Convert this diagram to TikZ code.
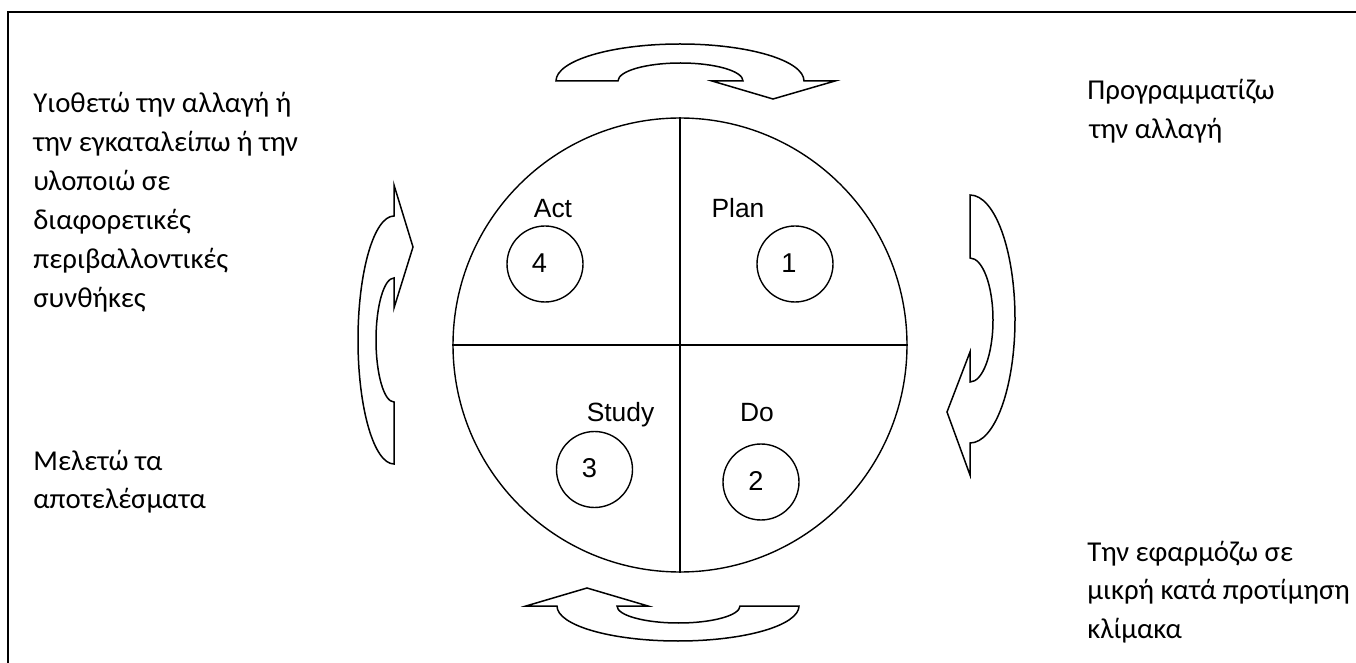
\documentclass[tikz,border=0pt]{standalone}
\usepackage{fontspec}
\setmainfont{Carlito}
\newfontfamily\labelfont{Liberation Sans}
\begin{document}
\begin{tikzpicture}[x=0.5pt,y=-0.5pt,line join=miter]
\tikzset{
  frame/.style={line width=1pt},
  ring/.style={draw,line width=0.7pt},
  blockarrow/.style={draw,line width=0.75pt,fill=white},
  greek/.style={anchor=base west,inner sep=0,font=\fontsize{14.4}{19.5}\selectfont},
  tag/.style={anchor=base,inner sep=0,font=\labelfont\fontsize{13.2}{15}\selectfont},
  num/.style={inner sep=0,font=\labelfont\fontsize{13.6}{15}\selectfont},
  stagecircle/.style={ring,circle,minimum size=38pt,inner sep=0}
}
\useasboundingbox (0,0) rectangle (1356,663);
% frame
\draw[frame] (8,663) -- (8,12) -- (1356,12);
% main wheel
\node[ring,circle,minimum size=227pt,inner sep=0] (wheel) at (680,345) {};
\draw[ring] (wheel.north) -- (wheel.south);
\draw[ring] (wheel.west) -- (wheel.east);
% stage circles
\node[stagecircle] (c4) at (545,264) {};
\node[stagecircle] (c1) at (795,264) {};
\node[stagecircle] (c3) at (594.5,469.5) {};
\node[stagecircle] (c2) at (761,482) {};
\node[num] (n4) at (539.5,263) {4};
\node[num] (n1) at (789,263) {1};
\node[num] (n3) at (589.5,468.5) {3};
\node[num] (n2) at (756,481) {2};
% stage labels
\node[tag] (act) at (553,218) {Act};
\node[tag] (plan) at (738,218) {Plan};
\node[tag] (study) at (620.5,422) {Study};
\node[tag] (do) at (757,422) {Do};
% block arrows
\draw[blockarrow] (556,81) -- (618,81)
  arc[start angle=180,end angle=360,x radius=62.5,y radius=18]
  -- (712,81) -- (773,99) -- (835,81) -- (804,81)
  arc[start angle=360,end angle=180,x radius=124,y radius=37] -- cycle;
\draw[blockarrow] (970,195)
  arc[start angle=-90,end angle=90,x radius=45,y radius=124]
  -- (970,475) -- (947,412) -- (970,352) -- (970,382)
  arc[start angle=90,end angle=-90,x radius=23,y radius=62] -- cycle;
\draw[blockarrow] (526,606) -- (587,588) -- (648,606) -- (617,606)
  arc[start angle=180,end angle=0,x radius=61.5,y radius=17]
  -- (799,606)
  arc[start angle=0,end angle=180,x radius=121,y radius=35] -- cycle;
\draw[blockarrow] (394,185) -- (413,247) -- (394,308) -- (394,278)
  arc[start angle=270,end angle=90,x radius=18,y radius=62]
  -- (394,464)
  arc[start angle=90,end angle=270,x radius=36,y radius=124] -- cycle;
% texts
\node[greek] (a1) at (33,113) {Υιοθετώ την αλλαγή ή};
\node[greek] (a2) at (33,152) {την εγκαταλείπω ή την};
\node[greek] (a3) at (33,191) {υλοποιώ σε};
\node[greek] (a4) at (33,230) {διαφορετικές};
\node[greek] (a5) at (33,269) {περιβαλλοντικές};
\node[greek] (a6) at (33,308) {συνθήκες};
\node[greek] (p1) at (1087,100) {Προγραμματίζω};
\node[greek] (p2) at (1089,139) {την αλλαγή};
\node[greek] (s1) at (33,471) {Μελετώ τα};
\node[greek] (s2) at (33,509) {αποτελέσματα};
\node[greek] (d1) at (1087,561) {Την εφαρμόζω σε};
\node[greek] (d2) at (1087,599) {μικρή κατά προτίμηση};
\node[greek] (d3) at (1087,638) {κλίμακα};
\end{tikzpicture}
\end{document}
